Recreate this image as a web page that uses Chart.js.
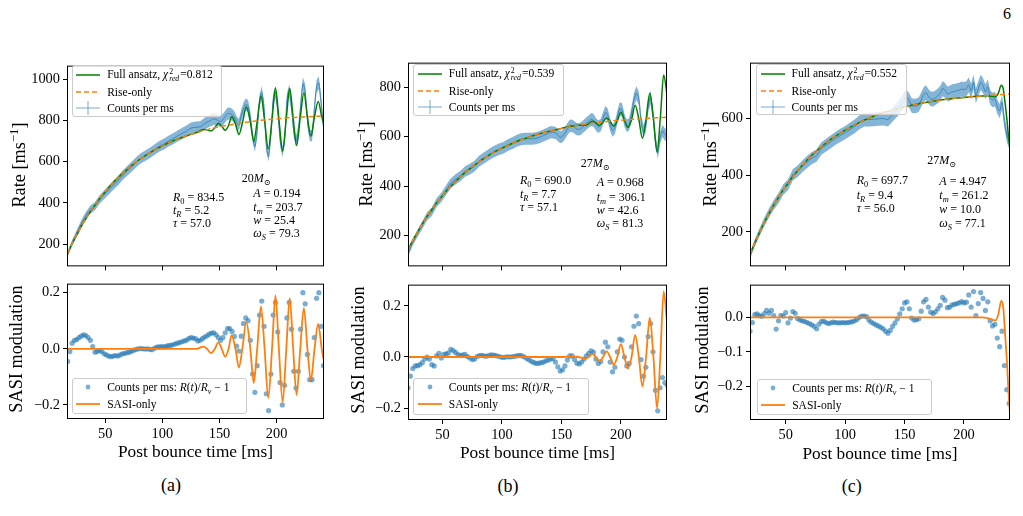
<!DOCTYPE html>
<html><head><meta charset="utf-8">
<script src="https://cdn.jsdelivr.net/npm/chart.js@4.4.1/dist/chart.umd.min.js"></script>
<style>
html,body{margin:0;padding:0;background:#fff;}
body{width:1023px;height:516px;position:relative;overflow:hidden;font-family:"Liberation Serif","DejaVu Serif",serif;color:#000;}
canvas{position:absolute;}
.t{position:absolute;white-space:nowrap;line-height:1;}
.leg{position:absolute;background:rgba(255,255,255,0.8);border:1px solid #cccccc;border-radius:3px;box-sizing:border-box;font-size:11.5px;z-index:5;}
.lr{position:absolute;left:0;height:14px;display:flex;align-items:center;white-space:nowrap;}
sub,sup{font-size:70%;line-height:0;}
.ss{display:inline-flex;flex-direction:column;font-size:68%;line-height:0.95;vertical-align:middle;margin:0 1px;}
</style></head><body>
<script>
// ---------------- shared ----------------
const X_TICKS=[50,100,150,200];

// ---------------- Panel (a) 20 Msun ----------------
const tA_top=[17,21,25,29,33,37,41,45,49,53,57,61,65,69,73,77,81,85,89,93,97,101,105,109,113,117,121,125,129,133,137,141,145,149,151,153,155,157,159,161,163,165,167,169,171,173,175,177,179,181,183,185,187,189,191,193,195,197,199,201,203,205,207,209,211,213,215,217,219,221,223,225,227,229,231,233,235,237,239,241];
const rateA=[149,206,252,298,337,368,384,416,439,462,485,507,532,554,575,597,615,628,642,657,673,684,698,709,723,735,747,762,766,768,784,796,807,799,793,803,818,832,833,827,815,791,778,821,858,876,869,816,722,672,748,893,934,863,672,625,730,899,937,853,709,646,703,898,944,867,746,698,747,870,977,944,799,726,726,850,964,982,885,770];
const tA_fit=[17,21,25,30,35,42,50,57,65,72,80,90,100,110,120,130,136,139,142.5,146,149,152,155,158,160.7,164,167,170,173.5,177,180,183,186.3,189.5,192.7,196,199,202,205.3,208.5,211.5,214.5,217.5,220.7,223.9,227,230,233.2,236.4,239.5,241];
const fullA=[156,202,244,295,340,397,454,498,542,576,610,646,676,702,723,741,756,754,748,764,786,771,752,776,817,782,731,786,864,792,697,796,918,799,661,802,957,806,654,809,956,811,678,813,933,815,724,817,891,819,789];
const tA_rise=[17,21,25,30,35,42,50,57,65,72,80,90,100,110,120,130,140,150,160,170,180,190,200,210,220,230,241];
const riseA=[156,202,244,295,340,397,454,498,542,576,610,646,676,702,723,741,756,769,779,788,796,802,807,812,815,818,821];
const tA_mod=[17,19,21,23,25,27,29,31,33,35,37,39,41,43,45,47,49,51,53,55,57,59,61,63,65,67,69,71,73,75,77,79,81,83,85,87,89,91,93,95,97,99,101,103,105,107,109,111,113,115,117,119,121,123,125,127,129,131,133,135,137,139,141,143,145,147,149,151,153,155,157,159,161,163,165,167,169,171,173,175,177,179,181,183,185,187,189,191,193,195,197,199,201,203,205,207,209,211,213,215,217,219,221,223,225,227,229,231,233,235,237,239,241];
const modA=[-0.045,-0.01,0.02,0.03,0.033,0.04,0.045,0.05,0.047,0.04,
0.03,0.008,-0.012,-0.01,-0.006,-0.01,-0.018,-0.022,-0.026,-0.028,
-0.026,-0.024,-0.026,-0.022,-0.018,-0.016,-0.014,-0.012,-0.009,-0.005,
-0.002,0,0.001,0,-0.001,0,-0.002,-0.003,0.002,0.006,
0.007,0.008,0.007,0.009,0.011,0.012,0.014,0.017,0.02,0.022,
0.025,0.028,0.03,0.036,0.04,0.038,0.036,0.028,0.03,0.036,
0.042,0.046,0.052,0.056,0.057,0.05,0.04,0.03,0.04,0.057,
0.072,0.072,0.062,0.044,0.01,-0.008,0.045,0.09,0.11,0.1,
0.03,-0.09,-0.155,-0.06,0.12,0.17,0.08,-0.16,-0.22,-0.09,
0.12,0.165,0.06,-0.12,-0.2,-0.13,0.11,0.165,0.07,-0.08,
-0.14,-0.08,0.07,0.2,0.16,-0.02,-0.11,-0.11,0.04,0.18,
0.2,0.08,-0.06];
const tA_sasi=[17,130,136,139,142.5,146,149,152,155,158,160.7,164,167,170,173.5,177,180,183,186.3,189.5,192.7,196,199,202,205.3,208.5,211.5,214.5,217.5,220.7,223.9,227,230,233.2,236.4,239.5,241];
const sasiA=[0,0,0.008,0,-0.015,0,0.023,0,-0.028,0,0.049,0,-0.067,0,0.095,0,-0.122,0,0.151,0,-0.175,0,0.19,0,-0.19,0,0.18,0,-0.165,0,0.146,0,-0.113,0,0.089,0,-0.037];
const yTicksA_top=[200,400,600,800,1000];
const yTicksA_bot=[-0.2,0,0.2];

// ---------------- Panel (b) 27 Msun ----------------
const tB_top=[21,25,29,33,37,41,45,49,53,57,61,65,69,73,77,81,85,89,93,97,101,105,109,113,117,121,125,129,133,137,141,145,149,151,153,155,157,159,161,163,165,167,169,171,173,175,177,179,181,183,185,187,189,191,193,195,197,199,201,203,205,207,209,211,213,215,217,219,221,223,225,227,229,231,233,235,237,239];
const rateB=[126,172,208,242,277,296,332,354,383,411,427,440,459,468,481,501,514,527,539,548,554,565,574,584,590,591,591,593,600,609,618,615,597,602,614,630,643,644,637,630,629,635,644,653,661,669,666,650,640,646,672,698,686,648,624,636,677,712,708,666,644,650,695,749,776,757,663,621,644,726,759,686,586,533,595,623,609,603];
const tB_fit=[21,25,30,35,40,45,50,57,65,73,81,90,100,110,120,130,140,150,158,164,170,173,176,179,182,185,188,191,194,197,200,203,206,209,212,215.1,218.1,221.2,224.3,227.4,230.4,233.2,236,238.8];
const fullB=[143,180,223,262,298,331,361,399,437,470,499,527,553,575,593,609,622,633,642,646,646,652,662,655,645,659,675,661,642,664,698,666,637,668,727,670,593,671,775,673,539,675,849,770];
const tB_rise=[21,25,30,35,40,45,50,57,65,73,81,90,100,110,120,130,140,150,160,170,180,190,200,210,220,230,239];
const riseB=[143,180,223,262,298,331,361,399,437,470,499,527,553,575,593,609,622,633,642,650,656,662,666,670,673,676,678];
const tB_mod=[21,23,25,27,29,31,33,35,37,39,41,43,45,47,49,51,53,55,57,59,61,63,65,67,69,71,73,75,77,79,81,83,85,87,89,91,93,95,97,99,101,103,105,107,109,111,113,115,117,119,121,123,125,127,129,131,133,135,137,139,141,143,145,147,149,151,153,155,157,159,161,163,165,167,169,171,173,175,177,179,181,183,185,187,189,191,193,195,197,199,201,203,205,207,209,211,213,215,217,219,221,223,225,227,229,231,233,235,237,239];
const modB=[-0.12,-0.075,-0.045,-0.035,-0.034,-0.03,-0.022,-0.008,0,-0.008,
-0.03,-0.035,0.004,0.014,-0.004,0.01,0.012,0.016,0.03,0.025,
0.018,0.009,0.006,0.008,0.01,0.002,-0.004,-0.01,-0.008,0.002,
0.005,0.006,0.004,0.003,0.006,0.008,0.007,0.005,0.003,0,
-0.002,0,0.001,0,0.002,0.003,0.005,0.006,0.004,0,
-0.006,-0.012,-0.018,-0.022,-0.025,-0.024,-0.022,-0.02,-0.015,-0.012,
-0.008,-0.006,-0.02,-0.038,-0.055,-0.05,-0.035,-0.012,0.004,0.004,
-0.01,-0.024,-0.027,-0.02,-0.008,0.004,0.014,0.024,0.018,-0.008,
-0.025,-0.018,0.02,0.058,0.04,-0.02,-0.058,-0.04,0.02,0.07,
0.065,0,-0.035,-0.025,0.04,0.12,0.16,0.13,-0.01,-0.075,
-0.04,0.08,0.13,0.02,-0.13,-0.21,-0.12,-0.08,-0.1,-0.11];
const tB_sasi=[21,150,158,164,170,173,176,179,182,185,188,191,194,197,200,203,206,209,212,215.1,218.1,221.2,224.3,227.4,230.4,233.2,236,238.8];
const sasiB=[0,0,0.002,0,-0.006,0,0.012,0,-0.018,0,0.022,0,-0.03,0,0.05,0,-0.045,0,0.086,0,-0.115,0,0.154,0,-0.2,0,0.256,0.135];
const yTicksB_top=[200,400,600,800];
const yTicksB_bot=[-0.2,0,0.2];

// ---------------- Panel (c) 27 Msun ----------------
const tC_top=[20,24,28,32,36,40,44,48,52,56,60,64,68,72,76,80,84,88,92,96,100,104,108,112,116,120,124,128,132,136,140,144,148,150,152,154,156,158,160,162,164,166,168,170,172,174,176,178,180,182,184,186,188,190,192,194,196,198,200,202,204,206,208,210,212,214,216,218,220,222,224,226,228,230,232,234,236,238];
const rateC=[115,161,198,235,267,295,319,349,366,401,414,431,446,460,469,494,506,518,530,540,550,561,572,586,596,596,597,599,600,596,614,632,655,669,673,662,646,644,645,649,666,684,691,678,669,668,673,680,688,705,700,687,689,694,695,698,700,704,702,705,719,696,728,680,705,727,716,694,712,674,665,668,642,626,657,589,541,515];
const tC_fit=[20,24,28,32,36,40,48,56,64,72,80,90,100,112,124,136,148,160,180,200,215,220,226.3,229,231.3,233,234,236.1,237.5,238.7];
const fullC=[120,160,197,232,264,294,348,394,435,470,500,532,559,586,608,625,639,650,665,674,679,680,676,690,717,705,674,597,534,494];
const tC_rise=[20,24,28,32,36,40,48,56,64,72,80,90,100,112,124,136,148,160,180,200,220,238];
const riseC=[120,160,197,232,264,294,348,394,435,470,500,532,559,586,608,625,639,650,665,674,681,686];
const tC_mod=[20,22,24,26,28,30,32,34,36,38,40,42,44,46,48,50,52,54,56,58,60,62,64,66,68,70,72,74,76,78,80,82,84,86,88,90,92,94,96,98,100,102,104,106,108,110,112,114,116,118,120,122,124,126,128,130,132,134,136,138,140,142,144,146,148,150,152,154,156,158,160,162,164,166,168,170,172,174,176,178,180,182,184,186,188,190,192,194,196,198,200,202,204,206,208,210,212,214,216,218,220,222,224,226,228,230,232,234,236,238];
const modC=[-0.04,-0.015,0.008,0.01,0.005,0.003,0.011,0.02,0.012,0.02,
0.005,-0.034,-0.01,0.006,0.004,0.014,-0.016,-0.002,0.017,0.012,
-0.003,-0.008,-0.01,-0.012,-0.015,-0.018,-0.022,-0.026,-0.033,-0.02,
-0.012,-0.011,-0.015,-0.018,-0.016,-0.014,-0.015,-0.016,-0.016,-0.015,
-0.016,-0.015,-0.014,-0.013,-0.01,-0.006,0,0.004,0.004,0.002,
-0.008,-0.014,-0.018,-0.022,-0.025,-0.029,-0.033,-0.04,-0.046,-0.038,
-0.026,-0.016,-0.004,0.01,0.025,0.042,0.045,0.025,-0.002,-0.008,
-0.007,-0.004,0.018,0.045,0.052,0.03,0.015,0.011,0.016,0.025,
0.035,0.058,0.05,0.028,0.03,0.036,0.038,0.04,0.042,0.046,
0.042,0.044,0.065,0.03,0.075,0.005,0.04,0.072,0.055,0.02,
0.045,-0.01,-0.025,-0.02,-0.06,-0.085,-0.04,-0.14,-0.21,-0.25];
const tC_sasi=[20,215,220,226.3,229,231.3,233,234,236.1,237.5,238.7];
const sasiC=[0,0,-0.002,-0.009,0.01,0.048,0.03,-0.016,-0.128,-0.22,-0.28];
const yTicksC_top=[200,400,600];
const yTicksC_bot=[-0.2,-0.1,0];

// ---------------- helpers ----------------
Chart.defaults.color='#000';
const FONT="'Liberation Serif','DejaVu Serif',serif";
const BLUE='#1f77b4', ORANGE='#ff7f0e', GREEN='#008000';
const pts=(xs,ys)=>xs.map((x,i)=>({x:x,y:ys[i]}));
const fmtInt=v=>String(v);
const fmtDec=v=>{const s=(Math.abs(v)<1e-9?0:v).toFixed(1);return s.replace('-','\u2212');};

const frame={id:'frame',afterDatasetsDraw(ch){const a=ch.chartArea,ctx=ch.ctx;ctx.save();ctx.strokeStyle='#000';ctx.lineWidth=1;ctx.strokeRect(a.left+0.5,a.top+0.5,a.right-a.left-1,a.bottom-a.top-1);ctx.restore();}};

function panel(box,isTop,xr,yr,yTicks,yFmt,datasets){
  const padT=6,padR=6,yW=50,xH=isTop?8:28;
  const c=document.createElement('canvas');
  c.width=box.W+yW+padR; c.height=box.H+padT+xH;
  c.style.left=(box.L-yW)+'px'; c.style.top=(box.T-padT)+'px';
  c.style.width=c.width+'px'; c.style.height=c.height+'px';
  document.body.appendChild(c);
  const grid={drawOnChartArea:false,drawTicks:true,tickLength:4,tickColor:'#000',tickWidth:1,color:'#000'};
  new Chart(c,{type:'line',data:{datasets:datasets},
    options:{responsive:false,animation:false,devicePixelRatio:1,
      layout:{padding:{left:0,top:padT,right:padR,bottom:0}},
      plugins:{legend:{display:false},tooltip:{enabled:false}},
      elements:{point:{radius:0}},
      scales:{
        x:{type:'linear',min:xr[0],max:xr[1],
          afterBuildTicks:s=>{s.ticks=X_TICKS.map(v=>({value:v}));},
          afterFit:s=>{s.height=xH;},
          grid:grid,border:{display:false},
          ticks:{display:!isTop,autoSkip:false,maxRotation:0,padding:3,font:{family:FONT,size:14.4},color:'#000',callback:fmtInt}},
        y:{type:'linear',min:yr[0],max:yr[1],
          afterBuildTicks:s=>{s.ticks=yTicks.map(v=>({value:v}));},
          afterFit:s=>{s.width=yW;},
          grid:grid,border:{display:false},
          ticks:{autoSkip:false,padding:3,font:{family:FONT,size:14.4},color:'#000',callback:yFmt}}
      }},
    plugins:[frame]});
}

function topSets(tRate,rate,tFit,full,tRise,rise){
  // Poisson error bars on the counts: sqrt(counts)
  const lo=tRate.map((t,i)=>({x:t,y:rate[i]-Math.sqrt(rate[i])}));
  const hi=tRate.map((t,i)=>({x:t,y:rate[i]+Math.sqrt(rate[i])}));
  return [
    {data:lo,borderWidth:0,pointRadius:0,fill:false,order:6},
    {data:hi,borderWidth:0,pointRadius:0,fill:'-1',backgroundColor:'rgba(31,119,180,0.55)',order:5},
    {data:pts(tRate,rate),borderColor:'rgba(31,119,180,0.7)',borderWidth:1,pointRadius:0,tension:0.25,order:4},
    {data:pts(tFit,full),borderColor:GREEN,borderWidth:1.5,pointRadius:0,cubicInterpolationMode:'monotone',order:2},
    {data:pts(tRise,rise),borderColor:ORANGE,borderWidth:1.5,borderDash:[5,3],pointRadius:0,cubicInterpolationMode:'monotone',order:1}
  ];
}
function botSets(tMod,mod,tS,s){
  return [
    {data:pts(tMod,mod),showLine:false,pointRadius:2.6,pointBorderWidth:0,pointBackgroundColor:'rgba(31,119,180,0.6)',order:2},
    {data:pts(tS,s),borderColor:ORANGE,borderWidth:1.8,pointRadius:0,cubicInterpolationMode:'monotone',order:1}
  ];
}

// ---------------- build the 6 panels ----------------
panel({L:67,T:60,W:257,H:210},true,[16.5,241.5],[92,1065],yTicksA_top,fmtInt,topSets(tA_top,rateA,tA_fit,fullA,tA_rise,riseA));
panel({L:67,T:278,W:257,H:141},false,[16.5,241.5],[-0.25,0.232],yTicksA_bot,fmtDec,botSets(tA_mod,modA,tA_sasi,sasiA));
panel({L:408,T:57,W:259,H:213},true,[21,238.8],[75,899],yTicksB_top,fmtInt,topSets(tB_top,rateB,tB_fit,fullB,tB_rise,riseB));
panel({L:408,T:279,W:259,H:141},false,[21,238.8],[-0.246,0.2825],yTicksB_bot,fmtDec,botSets(tB_mod,modB,tB_sasi,sasiB));
panel({L:750,T:57,W:260,H:213},true,[20,238.7],[78,797],yTicksC_top,fmtInt,topSets(tC_top,rateC,tC_fit,fullC,tC_rise,riseC));
panel({L:750,T:279,W:260,H:141},false,[20,238.7],[-0.298,0.095],yTicksC_bot,fmtDec,botSets(tC_mod,modC,tC_sasi,sasiC));

// ---------------- text overlays ----------------
function T(html,x,y,size,anchor,rot){
  const d=document.createElement('div');d.className='t';d.innerHTML=html;
  d.style.left=x+'px';d.style.top=y+'px';d.style.fontSize=size+'px';
  let tr=anchor==='l'?'translate(0,-50%)':'translate(-50%,-50%)';
  if(rot) tr+=' rotate(-90deg)';
  d.style.transform=tr;d.style.zIndex=4;document.body.appendChild(d);
}
const RATE='Rate [ms<sup>\u22121</sup>]', SASI='SASI modulation', PBT='Post bounce time [ms]';
T(RATE,19,165,18.3,'c',true); T(SASI,16,348.5,18.3,'c',true);
T(RATE,366,163.5,18.3,'c',true); T(SASI,357.5,349.5,18.3,'c',true);
T(RATE,709.5,163.5,18.3,'c',true); T(SASI,702,349.5,18.3,'c',true);
T(PBT,195.5,451.7,17.3,'c'); T(PBT,537.5,453.3,17.3,'c'); T(PBT,880,454,17.3,'c');
T('(a)',171,485,18,'c'); T('(b)',508,486,18,'c'); T('(c)',851.7,486,18,'c');
T('6',1007,14,16,'c');

function annot(x1,ys1,lines1,x2,ys2,lines2,mx,my,mass){
  lines1.forEach((h,i)=>T(h,x1,ys1[i],12,'l'));
  lines2.forEach((h,i)=>T(h,x2,ys2[i],12,'l'));
  T(mass,mx,my,12,'l');
}
const R0=v=>'<i>R</i><sub>0</sub> = '+v, TR=v=>'<i>t</i><sub><i>R</i></sub> = '+v, TAU=v=>'<i>\u03c4</i> = '+v;
const AMP=v=>'<i>A</i> = '+v, TM=v=>'<i>t</i><sub><i>m</i></sub> = '+v, WW=v=>'<i>w</i> = '+v, OM=v=>'<i>\u03c9</i><sub><i>S</i></sub> = '+v;
const MS=m=>m+'<i>M</i><sub>\u2299</sub>';
annot(173,[196.7,210,223.3],[R0('834.5'),TR('5.2'),TAU('57.0')],253.3,[193.3,206.7,220,233.3],[AMP('0.194'),TM('203.7'),WW('25.4'),OM('79.3')],241.7,178.3,MS('20'));
annot(520,[180,194,207.3],[R0('690.0'),TR('7.7'),TAU('57.1')],596.7,[181.7,196.7,210,223.3],[AMP('0.968'),TM('306.1'),WW('42.6'),OM('81.3')],580.7,163.3,MS('27'));
annot(856.7,[180,194.5,208],[R0('697.7'),TR('9.4'),TAU('56.0')],939.3,[180.7,194.7,208.7,222.7],[AMP('4.947'),TM('261.2'),WW('10.0'),OM('77.1')],927.3,160,MS('27'));

// ---------------- legends ----------------
function sample(k){
  if(k==='green') return '<line x1="0" y1="7" x2="24" y2="7" stroke="#008000" stroke-width="1.5"/>';
  if(k==='dash') return '<line x1="0" y1="7" x2="24" y2="7" stroke="#ff7f0e" stroke-width="1.5" stroke-dasharray="5,3"/>';
  if(k==='err') return '<line x1="0" y1="7" x2="24" y2="7" stroke="rgba(31,119,180,0.5)" stroke-width="1.2"/><line x1="12" y1="0" x2="12" y2="14" stroke="rgba(31,119,180,0.5)" stroke-width="1.2"/>';
  if(k==='dot') return '<circle cx="12" cy="7" r="2.4" fill="rgba(31,119,180,0.6)"/>';
  return '<line x1="0" y1="7" x2="24" y2="7" stroke="#ff7f0e" stroke-width="1.8"/>';
}
function legend(x,y,w,h,rows){
  const d=document.createElement('div');d.className='leg';
  d.style.left=x+'px';d.style.top=y+'px';d.style.width=w+'px';d.style.height=h+'px';
  rows.forEach(r=>{
    const row=document.createElement('div');row.className='lr';row.style.top=(r.cy-8)+'px';
    row.innerHTML='<svg width="24" height="14" style="margin-left:3.5px;overflow:visible">'+sample(r.k)+'</svg><span style="margin-left:7px">'+r.h+'</span>';
    d.appendChild(row);
  });
  document.body.appendChild(d);
}
const CHI=v=>'Full ansatz, <i>\u03c7</i><span class="ss"><span>2</span><i>red</i></span>='+v;
const topRows=v=>[{k:'green',h:CHI(v),cy:10},{k:'dash',h:'Rise-only',cy:26.5},{k:'err',h:'Counts per ms',cy:42.5}];
const botRows=[{k:'dot',h:'Counts per ms: <i>R</i>(<i>t</i>)/<i>R</i><sub><i>\u03bd</i></sub> \u2212 1',cy:9},{k:'orange',h:'SASI-only',cy:25.5}];
legend(71.7,65,150,51.7,topRows('0.812'));
legend(413.3,64,150.7,52,topRows('0.539'));
legend(756,64,151.3,51,topRows('0.552'));
legend(71.7,378.3,175,35.7,botRows);
legend(413.3,378.3,176,36.7,botRows);
legend(756.7,379.3,175.6,35.7,botRows);
</script>
</body></html>
